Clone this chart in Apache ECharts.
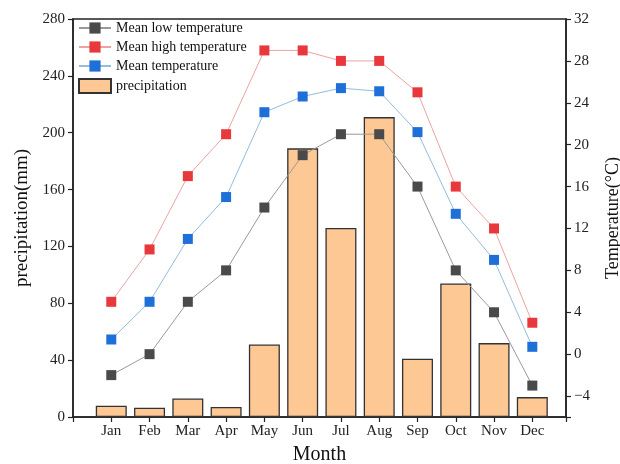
<!DOCTYPE html>
<html>
<head>
<meta charset="utf-8">
<script src="https://cdn.jsdelivr.net/npm/echarts@6/dist/echarts.min.js"></script>
<style>
  html, body { margin: 0; padding: 0; background: #fff; }
  #chart { width: 620px; height: 464px; }
</style>
</head>
<body>
<div id="chart"></div>
<script>
const months = ['Jan','Feb','Mar','Apr','May','Jun','Jul','Aug','Sep','Oct','Nov','Dec'];
const precipitation = [8, 6.5, 13, 7, 51, 189, 133, 211, 41, 94, 52, 14];
const meanLow = [-2, 0, 5, 8, 14, 19, 21, 21, 16, 8, 4, -3];
const meanHigh = [5, 10, 17, 21, 29, 29, 28, 28, 25, 16, 12, 3];
const meanTemp = [1.4, 5, 11, 15, 23.1, 24.6, 25.4, 25.1, 21.2, 13.4, 9, 0.7];

const FONT = 'Liberation Serif';
const toPairs = arr => arr.map((v, i) => [i + 1, v]);

const chart = echarts.init(document.getElementById('chart'), null, { renderer: 'canvas' });

const axisLineStyle = { color: '#222', width: 1.5 };

chart.setOption({
  animation: false,
  backgroundColor: '#fff',
  textStyle: { fontFamily: FONT },
  grid: {
    left: 73, right: 54, top: 19, bottom: 47,
    outerBoundsMode: 'none', containLabel: false,
    show: true, borderColor: '#222', borderWidth: 1.5, backgroundColor: 'transparent'
  },
  legend: {
    orient: 'vertical',
    left: 78, top: 21, padding: 0,
    itemWidth: 32, itemHeight: 14, itemGap: 5,
    textStyle: { fontFamily: FONT, fontSize: 14, color: '#111' },
    data: [
      { name: 'Mean low temperature' },
      { name: 'Mean high temperature' },
      { name: 'Mean temperature' },
      { name: 'precipitation', icon: 'rect' }
    ]
  },
  xAxis: {
    type: 'value',
    min: 0, max: 12.88, interval: 1,
    name: 'Month', nameLocation: 'middle', nameGap: 28,
    nameTextStyle: { fontFamily: FONT, fontSize: 20, color: '#111' },
    axisLine: { show: true, lineStyle: axisLineStyle },
    axisTick: { show: true, length: 5, lineStyle: { color: '#222', width: 1.2 } },
    axisLabel: {
      fontFamily: FONT, fontSize: 15, color: '#222', margin: 7,
      formatter: v => (Number.isInteger(v) && v >= 1 && v <= 12) ? months[v - 1] : ''
    },
    splitLine: { show: false }
  },
  yAxis: [
    {
      type: 'value', position: 'left',
      min: 0, max: 280, interval: 40,
      name: 'precipitation(mm)', nameLocation: 'middle', nameGap: 40,
      nameTextStyle: { fontFamily: FONT, fontSize: 19, color: '#111' },
      axisLine: { show: true, lineStyle: axisLineStyle },
      axisTick: { show: true, length: 5, lineStyle: { color: '#222', width: 1.2 } },
      axisLabel: { fontFamily: FONT, fontSize: 15, color: '#222', margin: 8 },
      splitLine: { show: false }
    },
    {
      type: 'value', position: 'right',
      min: -6, max: 32, splitNumber: 9, minInterval: 4, maxInterval: 4,
      name: 'Temperature(°C)', nameLocation: 'middle', nameGap: 38, nameRotate: 90,
      nameTextStyle: { fontFamily: FONT, fontSize: 18, color: '#111' },
      axisLine: { show: true, lineStyle: axisLineStyle },
      axisTick: { show: true, length: 5, lineStyle: { color: '#222', width: 1.2 } },
      axisLabel: {
        fontFamily: FONT, fontSize: 15, color: '#222', margin: 8,
        formatter: v => (v === -6 ? '' : (v < 0 ? '\u2212' + (-v) : String(v)))
      },
      splitLine: { show: false }
    }
  ],
  series: [
    {
      name: 'precipitation', type: 'bar', yAxisIndex: 0,
      barWidth: 31,
      itemStyle: { color: '#fdc894', borderColor: '#333', borderWidth: 1.3 },
      data: toPairs(precipitation), z: 1
    },
    {
      name: 'Mean low temperature', type: 'line', yAxisIndex: 1,
      symbol: 'rect', symbolSize: 10,
      itemStyle: { color: '#4a4a4a' },
      lineStyle: { color: '#9a9a9a', width: 1 },
      data: toPairs(meanLow), z: 3
    },
    {
      name: 'Mean high temperature', type: 'line', yAxisIndex: 1,
      symbol: 'rect', symbolSize: 10,
      itemStyle: { color: '#e8383c' },
      lineStyle: { color: '#eba3a3', width: 1 },
      data: toPairs(meanHigh), z: 3
    },
    {
      name: 'Mean temperature', type: 'line', yAxisIndex: 1,
      symbol: 'rect', symbolSize: 10,
      itemStyle: { color: '#1f6fd8' },
      lineStyle: { color: '#95bcdc', width: 1 },
      data: toPairs(meanTemp), z: 3
    }
  ]
});
</script>
</body>
</html>
